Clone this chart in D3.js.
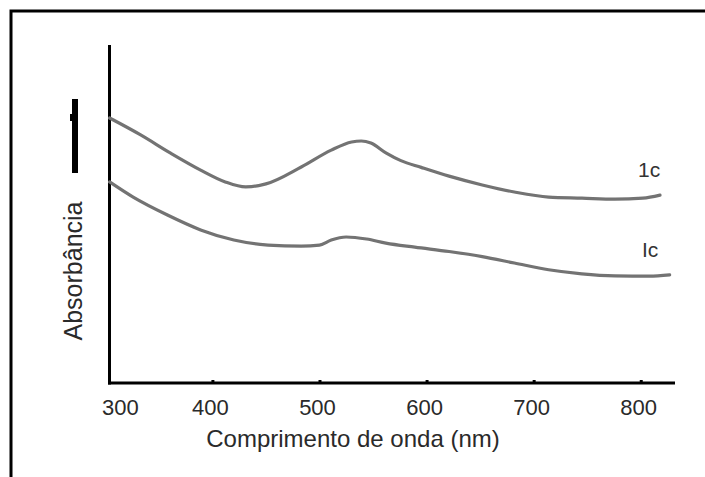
<!DOCTYPE html>
<html>
<head>
<meta charset="utf-8">
<script src="https://cdn.jsdelivr.net/npm/d3@7"></script>
<style>
  html, body { margin: 0; padding: 0; background: #fff; }
  svg { display: block; font-family: "Liberation Sans", Arial, sans-serif; }
</style>
</head>
<body>
<svg id="chart" width="705" height="477"></svg>
<script>
// Wavelength (nm) and absorbance (arbitrary units) for both spectra
const wl1c = [304, 333, 361, 389, 412, 431, 450, 483, 511, 530, 539, 548, 562, 576, 595, 621, 652, 682, 714, 745, 776, 802, 818];
const abs1c = [0.784, 0.734, 0.680, 0.630, 0.595, 0.580, 0.589, 0.639, 0.689, 0.713, 0.716, 0.710, 0.681, 0.658, 0.638, 0.612, 0.586, 0.565, 0.550, 0.547, 0.544, 0.547, 0.556];

const wlIc = [304, 326, 358, 389, 420, 452, 483, 500, 511, 525, 544, 562, 589, 621, 652, 682, 714, 745, 776, 808, 827];
const absIc = [0.595, 0.550, 0.497, 0.453, 0.423, 0.408, 0.405, 0.408, 0.423, 0.432, 0.426, 0.414, 0.402, 0.389, 0.374, 0.355, 0.335, 0.323, 0.317, 0.316, 0.320];

const seriesNames = ["1c", "Ic"];
const xTickValues = [300, 400, 500, 600, 700, 800];
const xTitle = "Comprimento de onda (nm)";
const yTitle = "Absorbância";

const svg = d3.select("#chart");

const axisLeft = 108, axisRight = 675, axisBottom = 383, axisTop = 45;
const x = d3.scaleLinear().domain([302.5, 832]).range([axisLeft, axisRight]);
const y = d3.scaleLinear().domain([0, 1]).range([axisBottom, 45]);

// outer frame (top and left edges)
svg.append("path")
  .attr("d", "M11,477 V11 H705")
  .attr("fill", "none").attr("stroke", "#000").attr("stroke-width", 3);

// small black marker left of the y axis
svg.append("rect").attr("x", 72).attr("y", 99).attr("width", 6).attr("height", 74).attr("fill", "#000");
svg.append("rect").attr("x", 70).attr("y", 114).attr("width", 3).attr("height", 7).attr("fill", "#000");

// soft line filter
const defs = svg.append("defs");
defs.append("filter").attr("id", "soft")
  .append("feGaussianBlur").attr("stdDeviation", 0.6);

// x axis built with d3.axisBottom, restyled: tiny inward ticks
const xAxis = d3.axisBottom(x).tickValues(xTickValues.filter(v => v > 300)).tickSize(-3).tickFormat("");
const gx = svg.append("g").attr("transform", `translate(0,${axisBottom})`).call(xAxis);
gx.select(".domain").attr("d", `M${axisLeft},0H${axisRight}`).attr("stroke", "#000").attr("stroke-width", 3);
gx.selectAll(".tick line").attr("stroke", "#000").attr("stroke-width", 3);

// x tick labels
svg.append("g").selectAll("text").data(xTickValues).join("text")
  .attr("x", d => d === 300 ? 102 : x(d) - 2)
  .attr("y", 415)
  .attr("text-anchor", d => d === 300 ? "start" : "middle")
  .attr("font-size", 22)
  .attr("fill", "#2a2a2a")
  .text(d => d);

// y axis line
svg.append("line")
  .attr("x1", 109.5).attr("x2", 109.5)
  .attr("y1", axisTop).attr("y2", axisBottom + 1.5)
  .attr("stroke", "#000").attr("stroke-width", 3);

// axis titles
svg.append("text")
  .attr("x", 353).attr("y", 447)
  .attr("text-anchor", "middle").attr("font-size", 24).attr("fill", "#2a2a2a")
  .text(xTitle);
svg.append("text")
  .attr("transform", "translate(82,271) rotate(-90)")
  .attr("text-anchor", "middle").attr("font-size", 25).attr("fill", "#2a2a2a")
  .text(yTitle);

// spectra
const line = d3.line().x(d => x(d[0])).y(d => y(d[1])).curve(d3.curveMonotoneX);
const series = [
  { name: seriesNames[0], pts: d3.zip(wl1c, abs1c) },
  { name: seriesNames[1], pts: d3.zip(wlIc, absIc) }
];
svg.append("g").attr("filter", "url(#soft)").selectAll("path").data(series).join("path")
  .attr("d", d => line(d.pts))
  .attr("fill", "none")
  .attr("stroke", "#737373")
  .attr("stroke-width", 3.2)
  .attr("stroke-linecap", "round");

// series labels
svg.append("text").attr("x", 638).attr("y", 177).attr("font-size", 21).attr("fill", "#333").text(seriesNames[0]);
svg.append("text").attr("x", 642).attr("y", 257).attr("font-size", 21).attr("fill", "#333").text(seriesNames[1]);
</script>
</body>
</html>
